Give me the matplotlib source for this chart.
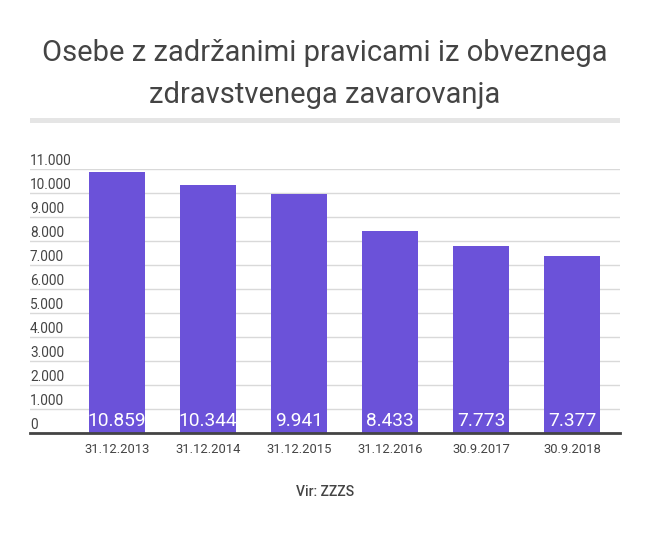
import matplotlib.pyplot as plt
import matplotlib.transforms as mtransforms

plt.rcParams['font.family'] = ['Roboto', 'DejaVu Sans']

categories = ['31.12.2013', '31.12.2014', '31.12.2015', '31.12.2016', '30.9.2017', '30.9.2018']
values = [10859, 10344, 9941, 8433, 7773, 7377]
yticks = [0, 1000, 2000, 3000, 4000, 5000, 6000, 7000, 8000, 9000, 10000, 11000]


def fmt(v):
    return f'{v:,}'.replace(',', '.')


W, H = 650, 537
fig = plt.figure(figsize=(W / 100, H / 100), dpi=100)

# title
fig.text(325 / W, 1 - 53 / H, 'Osebe z zadržanimi pravicami iz obveznega',
         ha='center', va='center', fontsize=21, color='#444444')
fig.text(325 / W, 1 - 95 / H, 'zdravstvenega zavarovanja',
         ha='center', va='center', fontsize=21, color='#444444')
# gray separator bar under title
fig.add_artist(plt.Rectangle((30 / W, 1 - 123 / H), 590 / W, 5 / H,
                             transform=fig.transFigure, color='#e5e5e5', lw=0))

ax = fig.add_axes([30 / W, (H - 433) / H, 590 / W, (433 - 169) / H])
x = list(range(len(categories)))
ax.bar(x, values, width=0.615, color='#6b52d9', zorder=3)
ax.set_xlim(-0.956, 5.527)
ax.set_ylim(0, 11000)

for s in ['top', 'right', 'left']:
    ax.spines[s].set_visible(False)
ax.spines['bottom'].set_color('#444444')
ax.spines['bottom'].set_linewidth(2)
ax.spines['bottom'].set_zorder(4)

ax.set_yticks(yticks)
ax.set_yticklabels([])
ax.tick_params(axis='y', length=0)
ax.grid(axis='y', color='#d9d9d9', lw=1, zorder=0)
# y labels sit just above their gridline, left aligned
trans = mtransforms.blended_transform_factory(ax.transAxes, ax.transData)
for t in yticks:
    ax.annotate(fmt(t), xy=(0, t), xycoords=trans, xytext=(0, 1),
                textcoords='offset points', ha='left', va='bottom',
                fontsize=9.8, color='#444444')

ax.set_xticks(x)
ax.set_xticklabels(categories, fontsize=9.4, color='#444444')
ax.tick_params(axis='x', length=0, pad=7)

for i, v in enumerate(values):
    ax.annotate(fmt(v), xy=(i, 0), xytext=(0, 5), textcoords='offset points',
                ha='center', va='baseline', fontsize=13.8, color='white',
                zorder=5)

fig.text(325 / W, 1 - 492 / H, 'Vir: ZZZS', ha='center', va='center',
         fontsize=10, color='#444444', fontweight='medium')

fig.savefig('out.png', dpi=100)
